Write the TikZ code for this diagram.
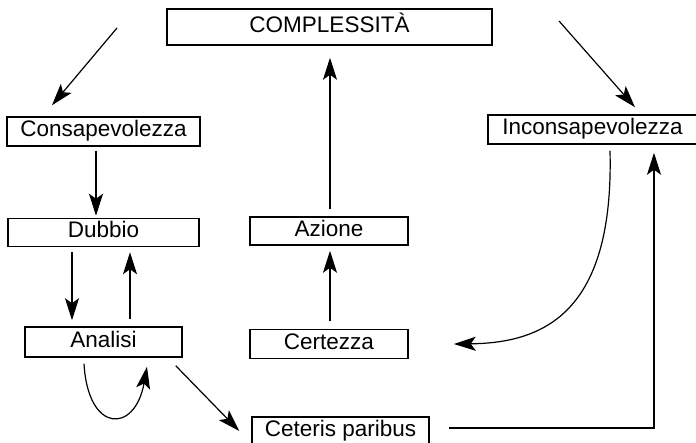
\documentclass[tikz,border=0pt]{standalone}
\usepackage{fontspec}
\setmainfont{Liberation Sans}
\usetikzlibrary{positioning,arrows,arrows.meta}

\begin{document}
\begin{tikzpicture}[
  x=1pt, y=-1pt,
  box/.style={rectangle,draw,inner sep=0pt,line width=1.5pt,minimum height=29pt,
    text height=17pt,text depth=6pt,font=\fontsize{22.5}{26}\selectfont},
  ->,>={Stealth[length=22pt,width=14pt,inset=5pt]},
  line width=1.2pt
]
  \clip[-] (0,0) rectangle (696,443);

  % Box on top
  \node [box,minimum width=325pt,minimum height=36pt] (cmp) at (329.5,27) {COMPLESSITÀ};

  % Left column
  \node [box,minimum width=193pt] (cons) at (103.5,131.5) {Consapevolezza};
  \node [box,minimum width=191pt,minimum height=28pt,below=71pt of cons] (dub) {Dubbio};
  \node [box,minimum width=157pt,minimum height=30pt,below=79pt of dub] (anl) {Analisi};

  % Middle column
  \node [box,minimum width=158pt,minimum height=28pt] (azi) at (329,231) {Azione};
  \node [box,minimum width=158pt,below=83pt of azi] (cert) {Certezza};
  \node [box,minimum width=177pt,minimum height=28pt] (cet) at (340.5,431) {Ceteris paribus};

  % Right
  \node [box,minimum width=209pt] (inc) at (592.5,129.5) {Inconsapevolezza};

  \coordinate (srcL) at (117,28);
  \coordinate (srcR) at (559,21);

  \draw (srcL) -- ([shift={(-51.5,-11)}]cons.north);
  \draw (srcR) -- ([shift={(42.5,-7)}]inc.north);
  \draw [shorten <=4pt,shorten >=2pt] ([xshift=-7.5pt]cons.south) -- ([xshift=-7.5pt]dub.north);
  \draw [shorten <=5pt,shorten >=6pt] ([xshift=-31.5pt]dub.south) -- ([xshift=-31.5pt]anl.north);
  \draw [shorten <=7pt,shorten >=5pt] ([xshift=26.5pt]anl.north) -- ([xshift=26.5pt]dub.south);
  \draw ([shift={(-19.5,6)}]anl.south) .. controls +(4,70) and +(-12,67) .. ([shift={(43.5,9)}]anl.south);
  \draw ([shift={(-7,8)}]anl.south east) -- ([xshift=-12pt]cet.west);
  \draw [shorten >=8pt] ([shift={(19,-3)}]cet.east) -| ([xshift=61.5pt]inc.south);
  \draw ([shift={(17.5,6)}]inc.south) .. controls +(4,160) and +(92,-1) .. ([xshift=45pt]cert.east);
  \draw [shorten <=8pt,shorten >=5pt] ([xshift=1pt]cert.north) -- ([xshift=1pt]azi.south);
  \draw [shorten <=7pt,shorten >=12pt] ([xshift=1pt]azi.north) -- ([xshift=0.5pt]cmp.south);
\end{tikzpicture}
\end{document}
